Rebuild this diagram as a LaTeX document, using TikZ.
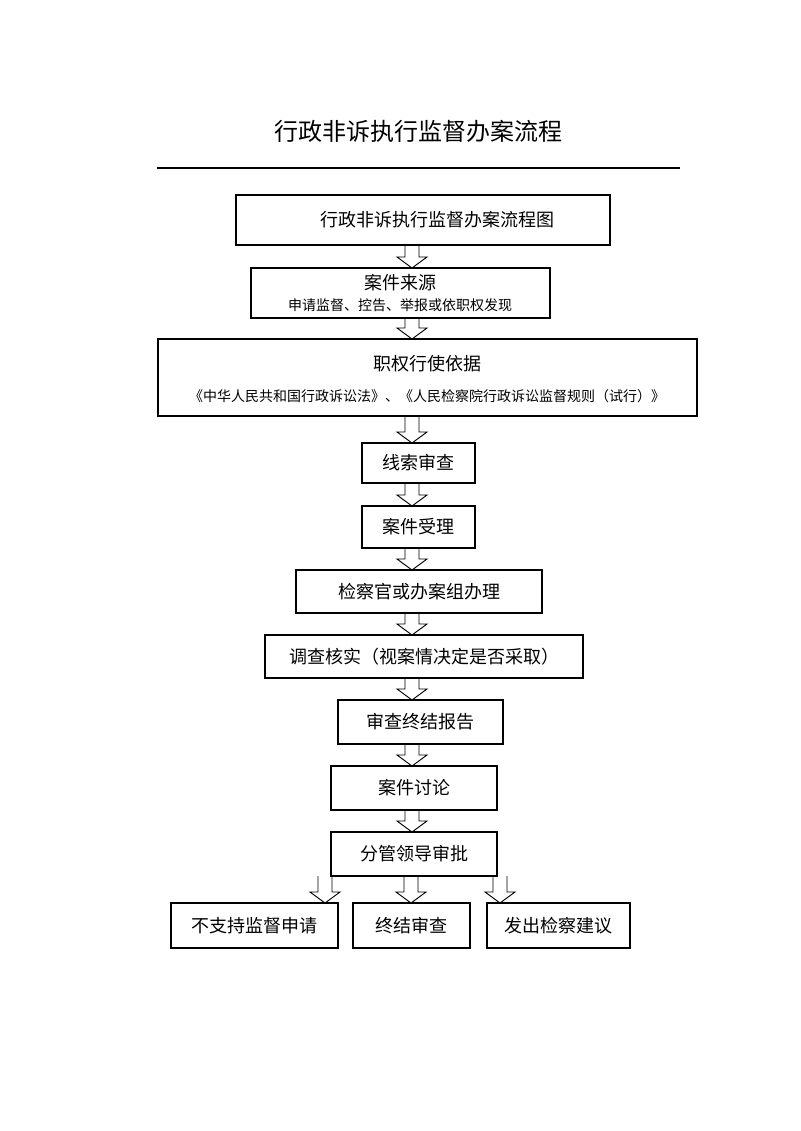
\documentclass[tikz,border=0pt]{standalone}
\usepackage{fontspec}
\setmainfont{Noto Sans CJK SC}
\begin{document}
\begin{tikzpicture}[x=0.75pt,y=-0.75pt,
  bx/.style={draw,line width=0.8pt,inner sep=0pt},
  txt/.style={font=\fontsize{13.5}{16}\selectfont},
  sm/.style={font=\fontsize{10.5}{13}\selectfont}]
\useasboundingbox (0,0) rectangle (800,1131);
\newcommand\harrow[3]{\draw[line width=0.7pt,fill=white] ({#1-7},#2) -- ({#1-7},{#3-11}) -- ({#1-15},{#3-11}) -- (#1,#3) -- ({#1+15},{#3-11}) -- ({#1+7},{#3-11}) -- ({#1+7},#2);}
\newcommand\bx[6]{\draw[line width=0.8pt] (#2,#4) rectangle (#3,#5); \node[txt,align=center] (#1) at ({(#2+#3)/2},{(#4+#5)/2}) {#6};}
\node[font=\fontsize{18}{22}\selectfont] (title) at (418,131) {行政非诉执行监督办案流程};
\draw[line width=1.6pt] (157,168) -- (680,168);
\harrow{412}{245}{268}
\harrow{412}{318}{339}
\harrow{412}{416}{443}
\harrow{412}{483}{506}
\harrow{412}{548}{570}
\harrow{412}{613}{635}
\harrow{412}{678}{700}
\harrow{412}{744}{766}
\harrow{412}{810}{832}
\harrow{325}{876}{903}
\harrow{411}{876}{903}
\harrow{500}{876}{903}
\bx{b1}{236}{610}{195}{245}{}
\node[txt] (t1) at (437,220) {行政非诉执行监督办案流程图};
\draw[line width=0.8pt] (251,268) rectangle (550,318);
\node[txt] (t2a) at (400,283) {案件来源};
\node[sm] (t2b) at (400,305) {申请监督、控告、举报或依职权发现};
\draw[line width=0.8pt] (158,339) rectangle (697,416);
\node[txt] (t3a) at (427,364) {职权行使依据};
\node[sm] (t3b) at (427,396) {《中华人民共和国行政诉讼法》、《人民检察院行政诉讼监督规则（试行）》};
\bx{b4}{362}{475}{443}{483}{线索审查}
\bx{b5}{362}{475}{506}{548}{案件受理}
\bx{b6}{296}{542}{570}{613}{检察官或办案组办理}
\bx{b7}{265}{583}{635}{678}{调查核实（视案情决定是否采取）}
\bx{b8}{338}{503}{700}{744}{审查终结报告}
\bx{b9}{331}{497}{766}{810}{案件讨论}
\bx{b10}{331}{497}{832}{876}{分管领导审批}
\bx{b11}{171}{338}{903}{948}{不支持监督申请}
\bx{b12}{353}{470}{903}{948}{终结审查}
\bx{b13}{487}{630}{903}{948}{发出检察建议}
\end{tikzpicture}
\end{document}
